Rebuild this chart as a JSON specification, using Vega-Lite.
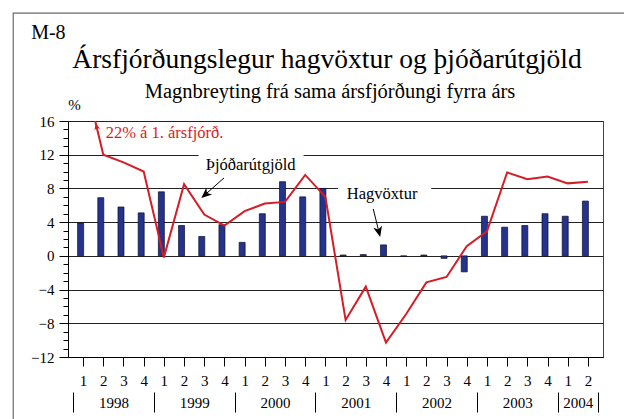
{
  "$schema": "https://vega.github.io/schema/vega-lite/v6.json",
  "autosize": "none",
  "width": 535,
  "height": 236,
  "padding": {"left": 68, "top": 121, "right": 21, "bottom": 62},
  "background": "white",
  "datasets": {
    "q": [
      {"i": 1, "ar": "1998", "f": 1, "hag": 3.9, "thj": 22.0},
      {"i": 2, "ar": "1998", "f": 2, "hag": 6.9, "thj": 12.0},
      {"i": 3, "ar": "1998", "f": 3, "hag": 5.8, "thj": 11.1},
      {"i": 4, "ar": "1998", "f": 4, "hag": 5.1, "thj": 10.0},
      {"i": 5, "ar": "1999", "f": 1, "hag": 7.6, "thj": -0.2},
      {"i": 6, "ar": "1999", "f": 2, "hag": 3.6, "thj": 8.5},
      {"i": 7, "ar": "1999", "f": 3, "hag": 2.3, "thj": 4.9},
      {"i": 8, "ar": "1999", "f": 4, "hag": 3.7, "thj": 3.6},
      {"i": 9, "ar": "2000", "f": 1, "hag": 1.6, "thj": 5.3},
      {"i": 10, "ar": "2000", "f": 2, "hag": 5.0, "thj": 6.2},
      {"i": 11, "ar": "2000", "f": 3, "hag": 8.8, "thj": 6.4},
      {"i": 12, "ar": "2000", "f": 4, "hag": 7.0, "thj": 9.6},
      {"i": 13, "ar": "2001", "f": 1, "hag": 8.0, "thj": 7.0},
      {"i": 14, "ar": "2001", "f": 2, "hag": 0.1, "thj": -7.6},
      {"i": 15, "ar": "2001", "f": 3, "hag": 0.15, "thj": -3.65},
      {"i": 16, "ar": "2001", "f": 4, "hag": 1.3, "thj": -10.3},
      {"i": 17, "ar": "2002", "f": 1, "hag": -0.05, "thj": -6.9},
      {"i": 18, "ar": "2002", "f": 2, "hag": 0.1, "thj": -3.15},
      {"i": 19, "ar": "2002", "f": 3, "hag": -0.3, "thj": -2.5},
      {"i": 20, "ar": "2002", "f": 4, "hag": -1.9, "thj": 1.15},
      {"i": 21, "ar": "2003", "f": 1, "hag": 4.7, "thj": 2.9},
      {"i": 22, "ar": "2003", "f": 2, "hag": 3.4, "thj": 9.9},
      {"i": 23, "ar": "2003", "f": 3, "hag": 3.6, "thj": 9.1},
      {"i": 24, "ar": "2003", "f": 4, "hag": 5.0, "thj": 9.4},
      {"i": 25, "ar": "2004", "f": 1, "hag": 4.7, "thj": 8.6},
      {"i": 26, "ar": "2004", "f": 2, "hag": 6.5, "thj": 8.8}
    ],
    "one": [{}]
  },
  "resolve": {"axis": {"x": "independent", "y": "independent"}},
  "layer": [
    {
      "data": {"name": "one"},
      "mark": {"type": "rect", "fill": "transparent", "stroke": "#6b6b6b", "strokeWidth": 1.2},
      "encoding": {
        "x": {"datum": -2.46, "type": "quantitative", "axis": null},
        "x2": {"datum": 30},
        "y": {"datum": 28.8, "type": "quantitative", "axis": null},
        "y2": {"datum": -25}
      }
    },
    {
      "data": {"name": "q"},
      "mark": {"type": "bar", "size": 6, "xOffset": -2.5, "fill": "#25338c", "stroke": "#0d0d2a", "strokeWidth": 0.7},
      "encoding": {
        "x": {
          "field": "i", "type": "quantitative",
          "scale": {"domain": [0.5, 26.5], "nice": false, "zero": false},
          "axis": {
            "orient": "bottom",
            "values": [1,2,3,4,5,6,7,8,9,10,11,12,13,14,15,16,17,18,19,20,21,22,23,24,25,26],
            "labelExpr": "'' + (((datum.value - 1) % 4) + 1)",
            "grid": false, "domain": true, "domainColor": "black",
            "tickColor": "black", "tickSize": 9,
            "labelFontSize": 15, "labelPadding": 7,
            "labelFlush": false, "labelOverlap": false,
            "title": null
          }
        },
        "y": {
          "field": "hag", "type": "quantitative",
          "scale": {"domain": [-12, 16], "nice": false, "zero": false},
          "axis": {
            "orient": "left",
            "values": [-12, -8, -4, 0, 4, 8, 12, 16],
            "grid": true, "gridColor": "#222", "gridWidth": 1,
            "tickSize": 9, "tickColor": "black", "domainColor": "black",
            "labelFontSize": 15, "labelPadding": 5, "labelFlush": false, "labelOverlap": false,
            "title": "%", "titleAngle": 0, "titleX": 6, "titleY": -17,
            "titleFontSize": 15, "titleFontWeight": "normal",
            "titleAlign": "center", "titleBaseline": "middle"
          }
        },
        "y2": {"datum": 0}
      }
    },
    {
      "data": {"name": "one"},
      "mark": {"type": "rect", "fill": "white", "stroke": null},
      "encoding": {
        "x": {"datum": 6.72, "type": "quantitative", "axis": null},
        "x2": {"datum": 11.92},
        "y": {"datum": 12.7, "type": "quantitative", "axis": null},
        "y2": {"datum": 11.3}
      }
    },
    {
      "data": {"name": "one"},
      "mark": {"type": "rect", "fill": "white", "stroke": null},
      "encoding": {
        "x": {"datum": 13.62, "type": "quantitative", "axis": null},
        "x2": {"datum": 18.24},
        "y": {"datum": 8.6, "type": "quantitative", "axis": null},
        "y2": {"datum": 7.4}
      }
    },
    {
      "data": {"name": "q"},
      "mark": {"type": "line", "color": "#d51d27", "strokeWidth": 2, "clip": true},
      "encoding": {
        "x": {
          "field": "i", "type": "quantitative",
          "axis": {
            "orient": "bottom", "offset": 35,
            "values": [0.5, 2.5, 4.5, 6.5, 8.5, 10.5, 12.5, 14.5, 16.5, 18.5, 20.5, 22.5, 24.5, 25.5, 26.5],
            "labelExpr": "datum.value == 25.5 ? '2004' : ((datum.value % 4 == 2.5 && datum.value < 26) ? '' + (floor(datum.value / 4) + 1998) : '')",
            "domain": false, "grid": false,
            "tickSize": 20, "tickColor": "black", "tickWidth": 1,
            "tickOpacity": {"condition": {"test": "datum.value % 4 == 0.5 || datum.value == 26.5", "value": 1}, "value": 0},
            "labelFontSize": 15, "labelBaseline": "middle", "labelPadding": -10,
            "labelFlush": false, "labelOverlap": false,
            "title": null
          }
        },
        "y": {
          "field": "thj", "type": "quantitative",
          "axis": {
            "orient": "left",
            "values": [-12,-11,-10,-9,-8,-7,-6,-5,-4,-3,-2,-1,0,1,2,3,4,5,6,7,8,9,10,11,12,13,14,15,16],
            "labels": false, "grid": false, "domain": false,
            "tickSize": 5, "tickColor": "black", "title": null
          }
        }
      }
    },
    {
      "data": {"name": "one"},
      "mark": {"type": "point", "shape": "M0,-1L0.75,0.75L0,0.25L-0.75,0.75Z", "filled": true, "color": "#d51d27", "opacity": 1, "strokeWidth": 0, "size": 64, "angle": -14},
      "encoding": {
        "x": {"datum": 1.67, "type": "quantitative", "axis": null},
        "y": {"datum": 15.3, "type": "quantitative", "axis": null}
      }
    },
    {
      "data": {"name": "one"},
      "mark": {"type": "rule", "color": "black", "strokeWidth": 1},
      "encoding": {
        "x": {"datum": 7.98, "type": "quantitative", "axis": null},
        "y": {"datum": 9.25, "type": "quantitative", "axis": null},
        "x2": {"datum": 7.08},
        "y2": {"datum": 7.34}
      }
    },
    {
      "data": {"name": "one"},
      "mark": {"type": "point", "shape": "M0,-1L0.75,0.75L0,0.25L-0.75,0.75Z", "filled": true, "color": "black", "opacity": 1, "strokeWidth": 0, "size": 144, "angle": 229},
      "encoding": {
        "x": {"datum": 7.08, "type": "quantitative", "axis": null},
        "y": {"datum": 7.34, "type": "quantitative", "axis": null}
      }
    },
    {
      "data": {"name": "one"},
      "mark": {"type": "rule", "color": "black", "strokeWidth": 1},
      "encoding": {
        "x": {"datum": 15.37, "type": "quantitative", "axis": null},
        "y": {"datum": 5.57, "type": "quantitative", "axis": null},
        "x2": {"datum": 15.64},
        "y2": {"datum": 2.94}
      }
    },
    {
      "data": {"name": "one"},
      "mark": {"type": "point", "shape": "M0,-1L0.75,0.75L0,0.25L-0.75,0.75Z", "filled": true, "color": "black", "opacity": 1, "strokeWidth": 0, "size": 144, "angle": 166},
      "encoding": {
        "x": {"datum": 15.64, "type": "quantitative", "axis": null},
        "y": {"datum": 2.94, "type": "quantitative", "axis": null}
      }
    },
    {
      "data": {"name": "one"},
      "mark": {"type": "text", "align": "left", "baseline": "alphabetic", "fontSize": 16.5, "color": "#d51d27", "font": "Liberation Serif"},
      "encoding": {
        "x": {"datum": 2.12, "type": "quantitative", "axis": null},
        "y": {"datum": 13.95, "type": "quantitative", "axis": null},
        "text": {"value": "22% á 1. ársfjórð."}
      }
    },
    {
      "data": {"name": "one"},
      "mark": {"type": "text", "align": "center", "baseline": "alphabetic", "fontSize": 16.5, "color": "black", "font": "Liberation Serif"},
      "encoding": {
        "x": {"datum": 9.3, "type": "quantitative", "axis": null},
        "y": {"datum": 10.19, "type": "quantitative", "axis": null},
        "text": {"value": "Þjóðarútgjöld"}
      }
    },
    {
      "data": {"name": "one"},
      "mark": {"type": "text", "align": "center", "baseline": "alphabetic", "fontSize": 16.5, "color": "black", "font": "Liberation Serif"},
      "encoding": {
        "x": {"datum": 15.81, "type": "quantitative", "axis": null},
        "y": {"datum": 6.76, "type": "quantitative", "axis": null},
        "text": {"value": "Hagvöxtur"}
      }
    },
    {
      "data": {"name": "one"},
      "mark": {"type": "text", "align": "center", "baseline": "middle", "fontSize": 20, "color": "black", "font": "Liberation Serif"},
      "encoding": {
        "x": {"datum": -0.72, "type": "quantitative", "axis": null},
        "y": {"datum": 26.4, "type": "quantitative", "axis": null},
        "text": {"value": "M-8"}
      }
    },
    {
      "data": {"name": "one"},
      "mark": {"type": "text", "align": "center", "baseline": "alphabetic", "fontSize": 27.5, "color": "black", "font": "Liberation Serif"},
      "encoding": {
        "x": {"datum": 13.08, "type": "quantitative", "axis": null},
        "y": {"datum": 22.28, "type": "quantitative", "axis": null},
        "text": {"value": "Ársfjórðungslegur hagvöxtur og þjóðarútgjöld"}
      }
    },
    {
      "data": {"name": "one"},
      "mark": {"type": "text", "align": "center", "baseline": "alphabetic", "fontSize": 20.5, "color": "black", "font": "Liberation Serif"},
      "encoding": {
        "x": {"datum": 13.23, "type": "quantitative", "axis": null},
        "y": {"datum": 18.73, "type": "quantitative", "axis": null},
        "text": {"value": "Magnbreyting frá sama ársfjórðungi fyrra árs"}
      }
    }
  ],
  "config": {
    "view": {"stroke": "#444", "strokeWidth": 1},
    "axis": {"labelFont": "Liberation Serif", "titleFont": "Liberation Serif", "labelColor": "black", "titleColor": "black"},
    "text": {"font": "Liberation Serif"}
  }
}
